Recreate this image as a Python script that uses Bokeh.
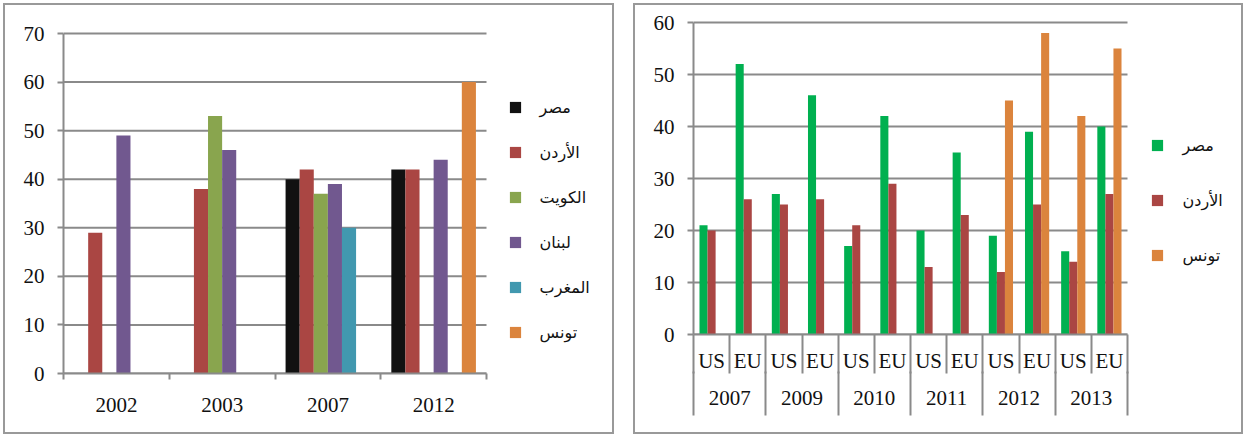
from bokeh.plotting import figure
from bokeh.models import (Range1d, FixedTicker, LinearAxis, ColumnDataSource, Legend, LegendItem)
from bokeh.embed import file_html
from bokeh.resources import INLINE

# ---------------- data: left chart ----------------
years_left = ["2002", "2003", "2007", "2012"]
countries_left = ["مصر", "الأردن", "الكويت", "لبنان", "المغرب", "تونس"]
egypt_left = [None, None, 40, 42]
jordan_left = [29, 38, 42, 42]
kuwait_left = [None, 53, 37, None]
lebanon_left = [49, 46, 39, 44]
morocco_left = [None, None, 30, None]
tunisia_left = [None, None, None, 60]
colors_left = ["#111111", "#AA4643", "#89A54E", "#71588F", "#4198AF", "#DB843D"]
yticks_left = [0, 10, 20, 30, 40, 50, 60, 70]

# ---------------- data: right chart ----------------
years_right = ["2007", "2009", "2010", "2011", "2012", "2013"]
subcats = ["US", "EU"]
countries_right = ["مصر", "الأردن", "تونس"]
egypt_right = [21, 52, 27, 46, 17, 42, 20, 35, 19, 39, 16, 40]
jordan_right = [20, 26, 25, 26, 21, 29, 13, 23, 12, 25, 14, 27]
tunisia_right = [None, None, None, None, None, None, None, None, 45, 58, 42, 55]
colors_right = ["#00B050", "#AA4643", "#DB843D"]
yticks_right = [0, 10, 20, 30, 40, 50, 60]

GRID = "#8a8a8a"
SERIF = "Liberation Serif"
ARABIC = "DejaVu Sans"


def box_style(left, top):
    return {"position": "absolute", "left": f"{left}px", "top": f"{top}px",
            "outline": "2.5px solid #999999", "outline-offset": "-2.5px"}


def style_common(p, yticks, fsize, nx):
    ymax = yticks[-1]
    p.yaxis.ticker = FixedTicker(ticks=yticks)
    p.yaxis.bounds = (0, ymax)
    p.yaxis.axis_line_color = GRID
    p.yaxis.axis_line_width = 2
    p.yaxis.major_tick_line_color = GRID
    p.yaxis.major_tick_line_width = 2
    p.yaxis.major_tick_out = 6
    p.yaxis.major_tick_in = 0
    p.yaxis.minor_tick_line_color = None
    p.yaxis.major_label_text_font = SERIF
    p.yaxis.major_label_text_font_size = f"{fsize}px"
    p.yaxis.major_label_text_color = "#111111"
    p.yaxis.major_label_standoff = 13
    p.grid.grid_line_color = None
    p.outline_line_color = None
    p.background_fill_color = "white"
    p.border_fill_alpha = 0
    # horizontal gridlines limited to the plotted categories
    gsrc = ColumnDataSource(dict(x0=[0] * len(yticks), x1=[nx] * len(yticks), y=yticks))
    p.segment(x0="x0", y0="y", x1="x1", y1="y", source=gsrc, line_color=GRID, line_width=2)


# ---------------- left figure ----------------
nL_cat = len(years_left)
unit_px_left = 423 / nL_cat          # pixels per category
frame_w_left = 540                   # frame extends under the legend
p1 = figure(width=611, height=431, output_backend="svg", toolbar_location=None,
            x_range=Range1d(0, frame_w_left / unit_px_left),
            y_range=Range1d(0, 70 * 342 / 340),
            min_border_left=60, min_border_right=611 - 60 - frame_w_left,
            min_border_top=28, min_border_bottom=61)
style_common(p1, yticks_left, 21, nL_cat)
series_left = [egypt_left, jordan_left, kuwait_left, lebanon_left, morocco_left, tunisia_left]
nL = len(series_left)
bw = 0.8 / nL
items = []
for k, (vals, name, col) in enumerate(zip(series_left, countries_left, colors_left)):
    xs, ys = [], []
    for i, v in enumerate(vals):
        if v is not None:
            xs.append(i + 0.5 - 0.4 + bw * (k + 0.5))
            ys.append(v)
    src = ColumnDataSource(dict(x=xs, top=ys))
    r = p1.vbar(x="x", top="top", width=bw, bottom=0, source=src, fill_color=col, line_color=None)
    items.append(LegendItem(label=name, renderers=[r]))

ax = p1.xaxis[0]
ax.bounds = (0, nL_cat)
ax.ticker = FixedTicker(ticks=[i + 0.5 for i in range(nL_cat)],
                        minor_ticks=list(range(nL_cat + 1)))
ax.major_label_overrides = {i + 0.5: y for i, y in enumerate(years_left)}
ax.axis_line_color = GRID
ax.axis_line_width = 2
ax.major_tick_line_color = None
ax.major_tick_out = 0
ax.major_tick_in = 0
ax.minor_tick_line_color = GRID
ax.minor_tick_line_width = 2
ax.minor_tick_out = 6
ax.minor_tick_in = 0
ax.major_label_text_font = SERIF
ax.major_label_text_font_size = "21px"
ax.major_label_text_color = "#111111"
ax.major_label_standoff = 18

leg1 = Legend(items=items, location=(444.6, 30.8), padding=0, margin=0,
              border_line_color=None, background_fill_alpha=0,
              glyph_width=14, glyph_height=14, label_height=20, spacing=25,
              label_standoff=18, label_text_font=ARABIC, label_text_font_size="16px",
              label_text_color="#111111")
p1.add_layout(leg1, "center")
p1.styles = box_style(3, 3)

# ---------------- right figure ----------------
nsub = len(years_right) * len(subcats)
unit_px_right = 434 / nsub
frame_w_right = 540
p2 = figure(width=610, height=431, output_backend="svg", toolbar_location=None,
            x_range=Range1d(0, frame_w_right / unit_px_right),
            y_range=Range1d(0, 60 * 314 / 312),
            min_border_left=60, min_border_right=610 - 60 - frame_w_right,
            min_border_top=17, min_border_bottom=100)
style_common(p2, yticks_right, 21, nsub)
series_right = [egypt_right, jordan_right, tunisia_right]
bw2 = 0.223
items2 = []
for k, (vals, name, col) in enumerate(zip(series_right, countries_right, colors_right)):
    xs, ys = [], []
    for i, v in enumerate(vals):
        if v is not None:
            xs.append(i + 0.5 + (k - 1) * bw2)
            ys.append(v)
    src = ColumnDataSource(dict(x=xs, top=ys))
    r = p2.vbar(x="x", top="top", width=bw2, bottom=0, source=src, fill_color=col, line_color=None)
    items2.append(LegendItem(label=name, renderers=[r]))

a1 = p2.xaxis[0]
a1.bounds = (0, nsub)
a1.ticker = FixedTicker(ticks=[i + 0.5 for i in range(nsub)], minor_ticks=list(range(nsub + 1)))
a1.major_label_overrides = {i + 0.5: subcats[i % 2] for i in range(nsub)}
a1.axis_line_color = GRID
a1.axis_line_width = 2
a1.major_tick_line_color = None
a1.major_tick_out = 0
a1.major_tick_in = 0
a1.minor_tick_line_color = GRID
a1.minor_tick_line_width = 2
a1.minor_tick_out = 39
a1.minor_tick_in = 0
a1.major_label_text_font = SERIF
a1.major_label_text_font_size = "21px"
a1.major_label_text_color = "#111111"
a1.major_label_standoff = -25

a2 = LinearAxis()
a2.bounds = (0, nsub)
a2.ticker = FixedTicker(ticks=[2 * j + 1 for j in range(len(years_right))],
                        minor_ticks=[2 * j for j in range(len(years_right) + 1)])
a2.major_label_overrides = {2 * j + 1: y for j, y in enumerate(years_right)}
a2.axis_line_color = None
a2.major_tick_line_color = None
a2.major_tick_out = 0
a2.major_tick_in = 0
a2.minor_tick_line_color = GRID
a2.minor_tick_line_width = 2
a2.minor_tick_out = 40
a2.minor_tick_in = 4
a2.major_label_text_font = SERIF
a2.major_label_text_font_size = "21px"
a2.major_label_text_color = "#111111"
a2.major_label_standoff = -25
p2.add_layout(a2, "below")

leg2 = Legend(items=items2, location=(456.6, 68.7), padding=0, margin=0,
              border_line_color=None, background_fill_alpha=0,
              glyph_width=14, glyph_height=14, label_height=20, spacing=35,
              label_standoff=19, label_text_font=ARABIC, label_text_font_size="16px",
              label_text_color="#111111")
p2.add_layout(leg2, "center")
p2.styles = box_style(633, 3)

open("out.html", "w").write(file_html([p1, p2], INLINE))
